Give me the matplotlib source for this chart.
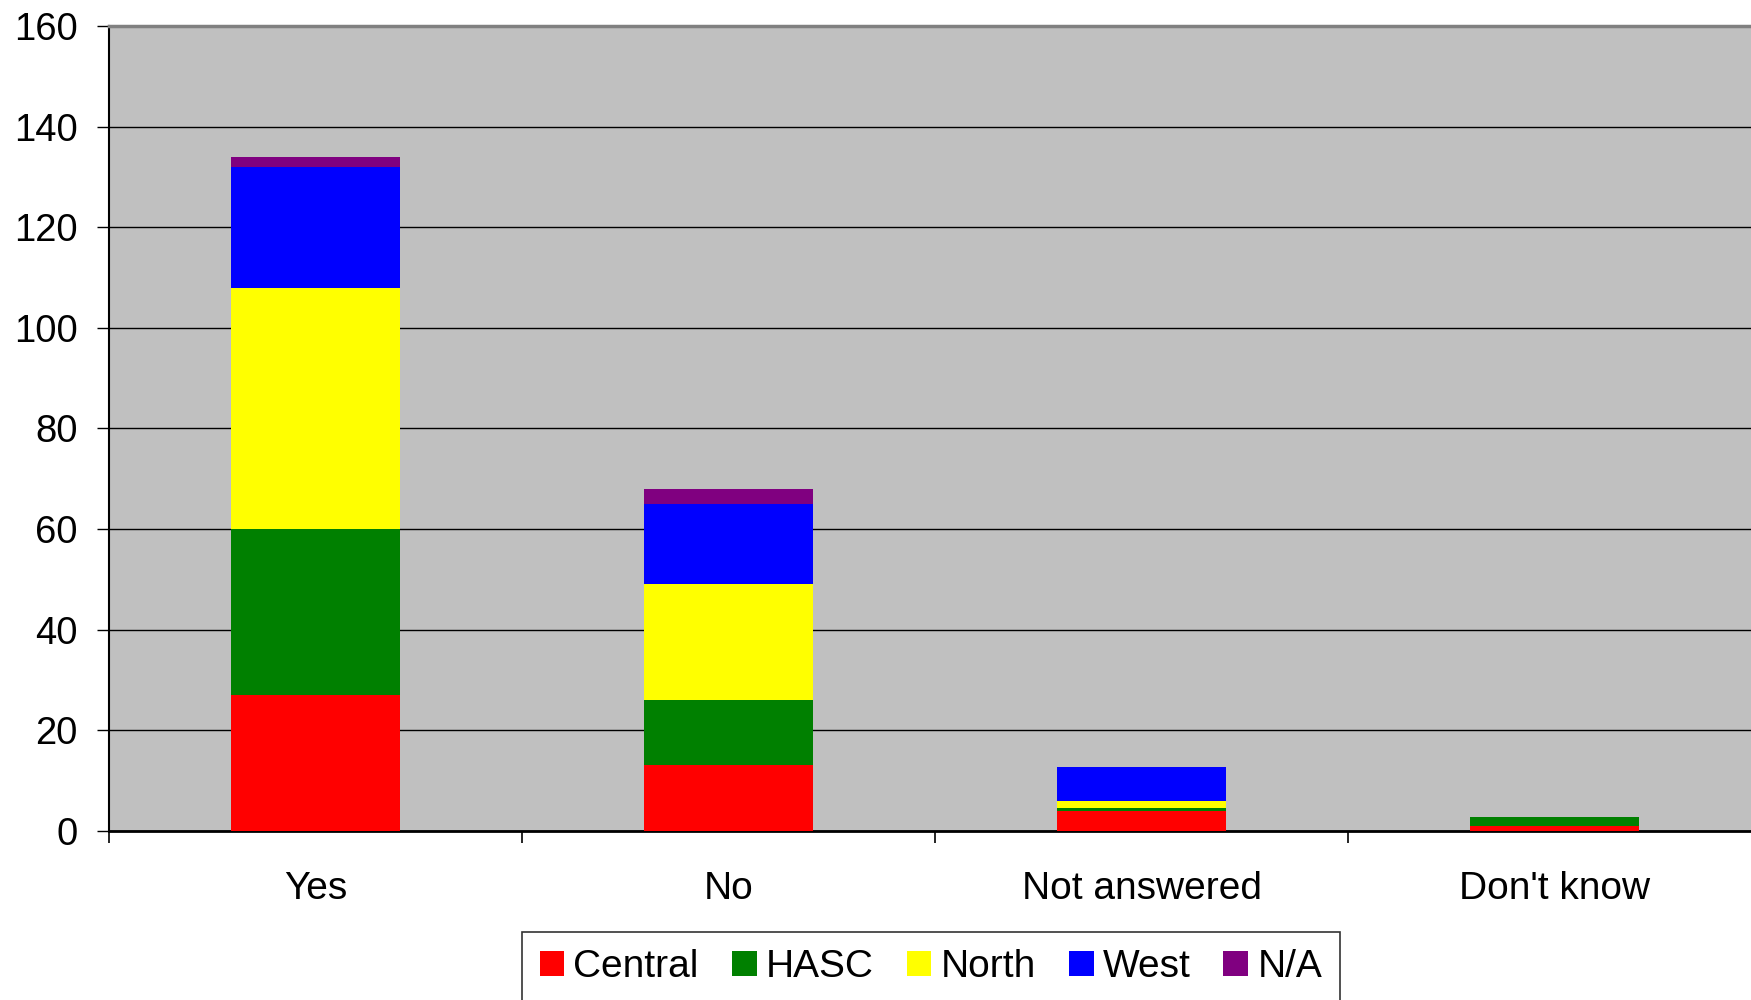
import numpy as np
import matplotlib
matplotlib.use("Agg")
import matplotlib.pyplot as plt

# data
categories = ["Yes", "No", "Not answered", "Don't know"]
central = [27, 13, 4, 1]
hasc = [33, 13, 0.5, 1.8]
north = [48, 23, 1.4, 0]
west = [24, 16, 6.8, 0]
na = [2, 3, 0, 0]

series = [("Central", central, "#FF0000"),
          ("HASC", hasc, "#008000"),
          ("North", north, "#FFFF00"),
          ("West", west, "#0000FF"),
          ("N/A", na, "#800080")]

plt.rcParams['font.family'] = ['Liberation Sans', 'DejaVu Sans']

fig = plt.figure(figsize=(17.51, 10), dpi=100)
ax = fig.add_axes([109.3 / 1751, 1 - 830.7 / 1000, 1652 / 1751, (830.7 - 26) / 1000])
ax.set_facecolor("#C0C0C0")

x = np.arange(len(categories))
bottom = np.zeros(len(categories))
handles = []
for name, vals, col in series:
    vals = np.array(vals, dtype=float)
    b = ax.bar(x, vals, width=0.41, bottom=bottom, color=col, label=name, zorder=3)
    handles.append(b)
    bottom += vals

# axes
ax.set_xlim(-0.5, 3.5)
ax.set_ylim(0, 160)
ax.set_yticks(np.arange(0, 161, 20))
ax.yaxis.grid(True, color="black", linewidth=1, zorder=1)
ax.set_axisbelow(True)

ax.set_xticks(x)
ax.set_xticklabels(categories)
ax.set_xticks(np.arange(-0.5, 3.6, 1), minor=True)
ax.tick_params(axis="x", which="major", length=0, pad=29, labelsize=28)
ax.tick_params(axis="x", which="minor", length=8.6, width=1.2, color="black")
ax.tick_params(axis="y", length=8.6, width=1, pad=14, labelsize=27.5)

ax.spines["left"].set_linewidth(1.5)
ax.spines["bottom"].set_linewidth(2)
ax.spines["top"].set_color("#808080")
ax.spines["top"].set_linewidth(2.5)
ax.spines["right"].set_visible(False)

# legend
leg = fig.legend(handles=handles, labels=[s[0] for s in series], ncol=5,
                 loc="upper left", bbox_to_anchor=(522 / 1751, 1 - 931.7 / 1000),
                 prop={"size": 28},
                 handlelength=0.64, handleheight=0.64, handletextpad=0.23,
                 columnspacing=0.85, borderpad=0.45, borderaxespad=0,
                 frameon=True, fancybox=False, edgecolor="black")
leg.get_frame().set_linewidth(1.2)

fig.savefig("out.png", dpi=100, facecolor="white")
